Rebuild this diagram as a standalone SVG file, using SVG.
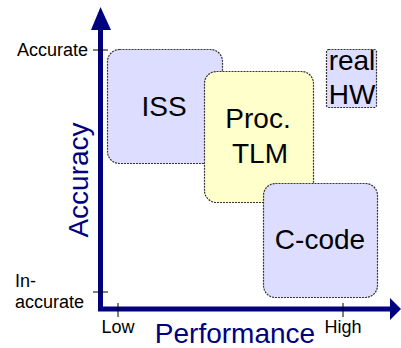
<svg xmlns="http://www.w3.org/2000/svg" width="401" height="348" viewBox="0 0 401 348">
<style>
.box{stroke:#333;stroke-width:1.2;stroke-dasharray:2,1}
.lav{fill:#DDDDFF}
.yel{fill:#FFFFCC}
.lbl{font-family:"Liberation Sans",Arial,sans-serif;font-size:28px;fill:#000;text-anchor:middle}
.tick{font-family:"Liberation Sans",Arial,sans-serif;font-size:18px;fill:#000}
.axt{font-family:"Liberation Sans",Arial,sans-serif;font-size:28px;fill:#000080;text-anchor:middle}
.tk{stroke:#000;stroke-width:1}
.ax{stroke:#000080;stroke-width:5;fill:none}
</style>
<g id="connectors">
<path class="ax" d="M100.5,28 V309 H391"/>
<polygon points="100.5,7 91,30 111,30" fill="#000080"/>
<polygon points="401,309 390,298 390,320" fill="#000080"/>
<line class="tk" x1="93" y1="50" x2="108" y2="50"/>
<line class="tk" x1="93" y1="292" x2="108" y2="292"/>
<line class="tk" x1="118" y1="303" x2="118" y2="317"/>
<line class="tk" x1="343" y1="303" x2="343" y2="317"/>
</g>
<g id="axis-labels">
<text class="tick" x="88" y="56" text-anchor="end">Accurate</text>
<text class="tick" x="15" y="287">In-</text>
<text class="tick" x="15" y="308">accurate</text>
<text class="tick" x="118" y="333" text-anchor="middle">Low</text>
<text class="tick" x="343" y="333" text-anchor="middle">High</text>
<text class="axt" transform="translate(88,180) rotate(-90)">Accuracy</text>
<text class="axt" x="235" y="343">Performance</text>
</g>
<g id="iss">
<rect class="box lav" x="107.5" y="49.5" width="115" height="114" rx="12"/>
<text class="lbl" x="164" y="116">ISS</text>
</g>
<g id="proc-tlm">
<rect class="box yel" x="204.5" y="71.5" width="109" height="131" rx="12"/>
<text class="lbl" x="258" y="128">Proc.</text>
<text class="lbl" x="260" y="163">TLM</text>
</g>
<g id="c-code">
<rect class="box lav" x="263.5" y="183.5" width="114" height="114" rx="12"/>
<text class="lbl" x="320" y="249">C-code</text>
</g>
<g id="real-hw">
<rect class="box lav" x="326.5" y="49.5" width="50" height="58" rx="2"/>
<text class="lbl" x="352" y="70">real</text>
<text class="lbl" x="352" y="104">HW</text>
</g>
</svg>
